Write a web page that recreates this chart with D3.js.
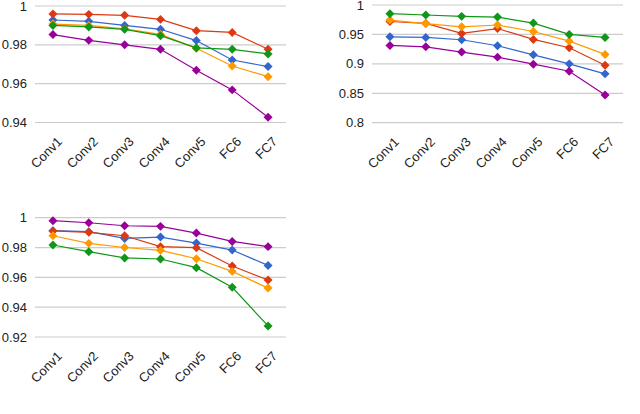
<!DOCTYPE html>
<html>
<head>
<meta charset="utf-8">
<script src="https://cdn.jsdelivr.net/npm/d3@7"></script>
<style>
  html, body { margin: 0; padding: 0; background: #fff; }
  svg { display: block; }
  text { font-family: "Liberation Sans", Arial, sans-serif; font-size: 13px; fill: #222; }
</style>
</head>
<body>
<svg id="chart" width="640" height="414"></svg>
<script>
const categories = ["Conv1", "Conv2", "Conv3", "Conv4", "Conv5", "FC6", "FC7"];
const seriesColors = ["#3366cc", "#dc3912", "#ff9900", "#109618", "#990099"];

// Chart A (top-left)
const aBlue   = [0.9928, 0.9921, 0.9900, 0.9880, 0.9822, 0.9722, 0.9688];
const aRed    = [0.9959, 0.9957, 0.9952, 0.9931, 0.9873, 0.9864, 0.9777];
const aOrange = [0.9907, 0.9900, 0.9882, 0.9854, 0.9782, 0.9691, 0.9636];
const aGreen  = [0.9900, 0.9892, 0.9880, 0.9847, 0.9784, 0.9777, 0.9753];
const aPurple = [0.9853, 0.9823, 0.9800, 0.9777, 0.9669, 0.9568, 0.9427];
const aTicks  = [0.94, 0.96, 0.98, 1];
const aTickLabels = ["0.94", "0.96", "0.98", "1"];

// Chart B (top-right)
const bBlue   = [0.9460, 0.9449, 0.9410, 0.9307, 0.9153, 0.9000, 0.8830];
const bRed    = [0.9720, 0.9688, 0.9517, 0.9600, 0.9415, 0.9273, 0.8977];
const bOrange = [0.9744, 0.9682, 0.9630, 0.9660, 0.9550, 0.9386, 0.9160];
const bGreen  = [0.9852, 0.9830, 0.9807, 0.9795, 0.9693, 0.9500, 0.9449];
const bPurple = [0.9313, 0.9290, 0.9200, 0.9114, 0.8994, 0.8875, 0.8472];
const bTicks  = [0.8, 0.85, 0.9, 0.95, 1];
const bTickLabels = ["0.8", "0.85", "0.9", "0.95", "1"];

// Chart C (bottom-left)
const cBlue   = [0.9913, 0.9906, 0.9861, 0.9870, 0.9830, 0.9783, 0.9680];
const cRed    = [0.9911, 0.9902, 0.9879, 0.9806, 0.9799, 0.9676, 0.9582];
const cOrange = [0.9879, 0.9828, 0.9800, 0.9781, 0.9725, 0.9640, 0.9528];
const cGreen  = [0.9817, 0.9772, 0.9730, 0.9723, 0.9665, 0.9533, 0.9274];
const cPurple = [0.9980, 0.9966, 0.9946, 0.9942, 0.9897, 0.9841, 0.9806];
const cTicks  = [0.92, 0.94, 0.96, 0.98, 1];
const cTickLabels = ["0.92", "0.94", "0.96", "0.98", "1"];

const svg = d3.select("#chart");

function drawChart(cfg) {
  const g = svg.append("g");
  const x = d3.scalePoint().domain(categories).range([cfg.x0, cfg.x1]).padding(0.5);
  const y = d3.scaleLinear().domain([cfg.ticks[0], cfg.ticks[cfg.ticks.length - 1]]).range([cfg.y1, cfg.y0]);

  // gridlines
  g.append("g").selectAll("line").data(cfg.ticks).join("line")
    .attr("x1", cfg.x0).attr("x2", cfg.x1)
    .attr("y1", d => y(d)).attr("y2", d => y(d))
    .attr("stroke", "#cccccc").attr("stroke-width", 1.2);

  // y tick labels
  g.append("g").selectAll("text").data(cfg.ticks).join("text")
    .attr("x", cfg.x0 - 8).attr("y", d => y(d))
    .attr("dy", "0.35em").attr("text-anchor", "end")
    .text((d, i) => cfg.tickLabels[i]);

  // x labels slanted
  g.append("g").selectAll("text").data(categories).join("text")
    .attr("text-anchor", "end")
    .attr("transform", d => `translate(${x(d) + 10},${cfg.y1 + 20}) rotate(-45)`)
    .text(d => d);

  const line = d3.line().x((d, i) => x(categories[i])).y(d => y(d));
  const sym = d3.symbol().type(d3.symbolSquare).size(40);

  cfg.series.forEach((vals, si) => {
    const sg = g.append("g");
    sg.append("path").datum(vals)
      .attr("d", line).attr("fill", "none")
      .attr("stroke", seriesColors[si]).attr("stroke-width", 1.2);
    sg.selectAll("path.pt").data(vals).join("path").attr("class", "pt")
      .attr("d", sym)
      .attr("transform", (d, i) => `translate(${x(categories[i])},${y(d)}) rotate(45)`)
      .attr("fill", seriesColors[si]);
  });
}

drawChart({ x0: 35, x1: 286, y0: 6, y1: 122.5, ticks: aTicks, tickLabels: aTickLabels,
  series: [aBlue, aRed, aOrange, aGreen, aPurple] });
drawChart({ x0: 372, x1: 623, y0: 5, y1: 122.7, ticks: bTicks, tickLabels: bTickLabels,
  series: [bBlue, bRed, bOrange, bGreen, bPurple] });
drawChart({ x0: 35, x1: 286, y0: 217.7, y1: 337, ticks: cTicks, tickLabels: cTickLabels,
  series: [cBlue, cRed, cOrange, cGreen, cPurple] });
</script>
</body>
</html>
